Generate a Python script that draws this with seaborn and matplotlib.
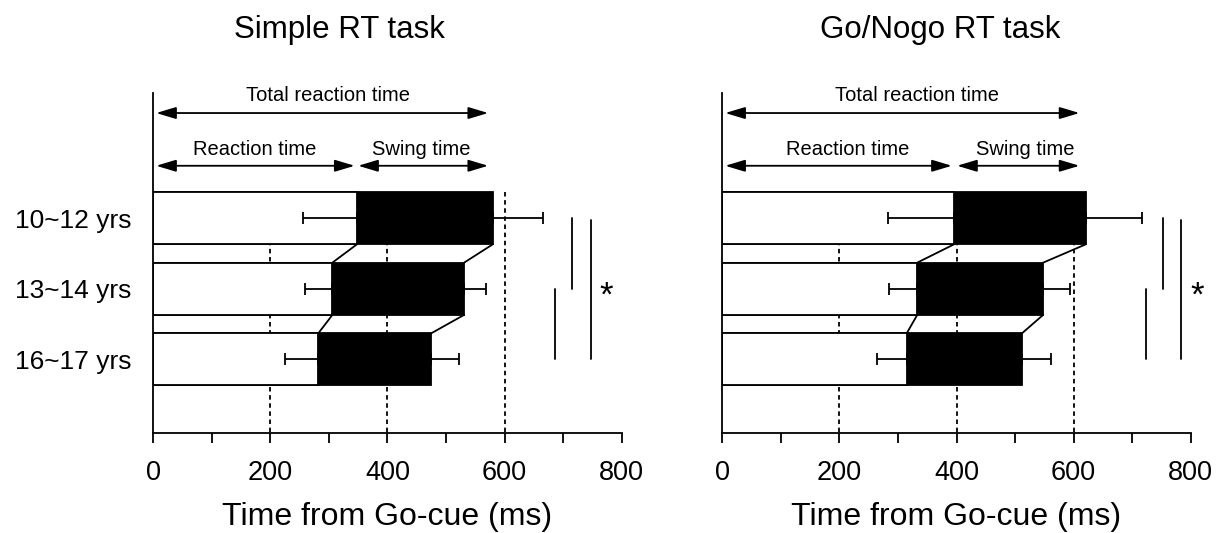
import numpy as np
import pandas as pd
import seaborn as sns
import matplotlib.pyplot as plt

groups = ["10~12 yrs", "13~14 yrs", "16~17 yrs"]

# Simple RT task (ms)
simple_rt = [348, 306, 282]
simple_rt_sd = [92, 47, 57]
simple_total = [580, 531, 475]
simple_total_sd = [85, 37, 47]

# Go/Nogo RT task (ms)
gonogo_rt = [396, 333, 315]
gonogo_rt_sd = [113, 48, 50]
gonogo_total = [621, 548, 512]
gonogo_total_sd = [96, 46, 49]

panels = [
    {"title": "Simple RT task", "rt": simple_rt, "rt_sd": simple_rt_sd,
     "total": simple_total, "total_sd": simple_total_sd,
     "arr_total": (5, 572), "arr_rt": (5, 344), "arr_swing": (350, 572),
     "txt": (299, 174, 458), "sig": (716, 686, 747), "star": 774,
     "title_x": 0.2776, "pos": [0.1253, 0.1871, 0.3830, 0.6390],
     "ylabels": True},
    {"title": "Go/Nogo RT task", "rt": gonogo_rt, "rt_sd": gonogo_rt_sd,
     "total": gonogo_total, "total_sd": gonogo_total_sd,
     "arr_total": (5, 610), "arr_rt": (5, 392), "arr_swing": (401, 610),
     "txt": (332, 214, 517), "sig": (753, 724, 783), "star": 811,
     "title_x": 0.7686, "pos": [0.5906, 0.1871, 0.3830, 0.6390],
     "ylabels": False},
]

sns.set_style("ticks")
plt.rcParams["font.family"] = ["Liberation Sans", "DejaVu Sans"]
plt.rcParams.update({"text.color": "black", "axes.labelcolor": "black",
                     "xtick.color": "black", "ytick.color": "black",
                     "axes.edgecolor": "black"})

LW = 1.3
H = 0.74

fig = plt.figure(figsize=(12.23, 5.33), dpi=100)

for p in panels:
    ax = fig.add_axes(p["pos"])
    df = pd.DataFrame({"group": groups, "rt": p["rt"], "total": p["total"]})
    ypos = np.arange(len(groups))

    # black = total reaction time, white overlay = reaction time
    sns.barplot(data=df, x="total", y="group", orient="h", color="black",
                saturation=1, width=H, edgecolor="black", linewidth=LW,
                errorbar=None, ax=ax)
    sns.barplot(data=df, x="rt", y="group", orient="h", color="white",
                saturation=1, width=H, edgecolor="black", linewidth=LW,
                errorbar=None, ax=ax)

    ax.set_xlim(0, 800)
    ax.set_ylim(3.047, -1.777)

    # dotted guide lines (behind bars)
    ax.vlines([200, 400, 600], ymin=-H / 2, ymax=3.047, colors="black",
              linestyles=(0, (2.5, 2)), lw=LW, zorder=0.5)

    # connecting lines between bars
    for i in range(len(groups) - 1):
        for vals in (p["rt"], p["total"]):
            ax.plot([vals[i], vals[i + 1]], [i + H / 2, i + 1 - H / 2],
                    color="black", lw=LW, zorder=3)

    # one-sided error bars
    zeros = np.zeros(len(groups))
    ax.errorbar(p["rt"], ypos, xerr=[p["rt_sd"], zeros], fmt="none",
                ecolor="black", elinewidth=LW, capsize=4, capthick=LW, zorder=4)
    ax.errorbar(p["total"], ypos, xerr=[zeros, p["total_sd"]], fmt="none",
                ecolor="black", elinewidth=LW, capsize=4, capthick=LW, zorder=4,
                clip_on=False)

    # arrows
    astyle = dict(arrowstyle="<|-|>,head_length=0.6,head_width=0.18",
                  mutation_scale=20, lw=LW, color="black", shrinkA=0, shrinkB=0)
    for (x0, x1), yy in ((p["arr_total"], -1.489), (p["arr_rt"], -0.742),
                         (p["arr_swing"], -0.742)):
        ax.annotate("", xy=(x1, yy), xytext=(x0, yy), arrowprops=astyle,
                    annotation_clip=False)
    tx_total, tx_rt, tx_swing = p["txt"]
    ax.text(tx_total, -1.654, "Total reaction time", ha="center", va="baseline",
            fontsize=14.5, clip_on=False)
    ax.text(tx_rt, -0.898, "Reaction time", ha="center", va="baseline", fontsize=14.5)
    ax.text(tx_swing, -0.898, "Swing time", ha="center", va="baseline", fontsize=14.5)

    # significance lines
    s01, s12, s02 = p["sig"]
    ax.plot([s01, s01], [0, 1], color="black", lw=LW, clip_on=False)
    ax.plot([s12, s12], [1, 2], color="black", lw=LW, clip_on=False)
    ax.plot([s02, s02], [0.03, 2], color="black", lw=LW, clip_on=False)
    ax.text(p["star"], 1.1, "*", ha="center", va="center", fontsize=25,
            clip_on=False)

    sns.despine(ax=ax)
    for s in ("left", "bottom"):
        ax.spines[s].set_linewidth(LW)
    ax.set_xticks([0, 200, 400, 600, 800])
    ax.set_xticks([100, 300, 500, 700], minor=True)
    ax.tick_params(axis="x", which="both", length=7, width=LW, direction="out",
                   labelsize=19.5, pad=12)
    ax.tick_params(axis="y", length=0, labelsize=19, pad=16)
    if not p["ylabels"]:
        ax.set_yticklabels([])
    ax.set_ylabel("")
    ax.set_xlabel("Time from Go-cue (ms)", fontsize=23, labelpad=12)

    fig.text(p["title_x"], 0.928, p["title"], ha="center", va="baseline",
             fontsize=22.5)

fig.savefig("out.png", dpi=100)
